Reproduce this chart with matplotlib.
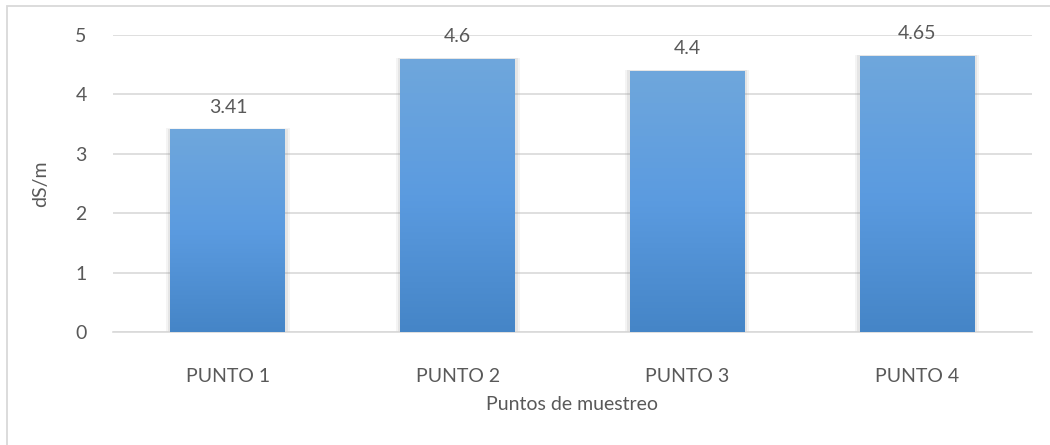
import numpy as np
import matplotlib.pyplot as plt
from matplotlib.patches import Rectangle
from matplotlib.colors import LinearSegmentedColormap

# Conductividad eléctrica por punto de muestreo
puntos = ['PUNTO 1', 'PUNTO 2', 'PUNTO 3', 'PUNTO 4']
valores = [3.41, 4.6, 4.4, 4.65]
etiquetas = ['3.41', '4.6', '4.4', '4.65']

plt.rcParams['font.family'] = ['Lato', 'DejaVu Sans']
gris = '#595959'
fs = 14

fig = plt.figure(figsize=(10.5, 4.45), dpi=100)
ax = fig.add_axes([113 / 1050, 1 - 332 / 445, (1032 - 113) / 1050, (332 - 35) / 445])

# marco exterior del gráfico (se corta por la derecha y por abajo)
fig.patches.append(Rectangle((7 / 1050, -0.2), 1.5, 1.2 - 6 / 445, transform=fig.transFigure,
                             fill=False, edgecolor='#d9d9d9', linewidth=1.3, zorder=0))

x = np.arange(len(puntos))
ancho = 0.5
cmap = LinearSegmentedColormap.from_list('azul', ['#4585c7', '#5b9be0', '#6fa7dc'])
grad = np.linspace(0, 1, 256).reshape(-1, 1)

for xi, v, txt in zip(x, valores, etiquetas):
    # sombra suave alrededor de la barra
    for k, a in [(0.020, 0.09), (0.011, 0.14)]:
        ax.add_patch(Rectangle((xi - ancho / 2 - k, 0), ancho + 2 * k, v + k * 0.9,
                               facecolor='#909090', edgecolor='none', alpha=a, zorder=2))
    barra = Rectangle((xi - ancho / 2, 0), ancho, v, facecolor='none', edgecolor='none', zorder=3)
    ax.add_patch(barra)
    im = ax.imshow(grad, extent=(xi - ancho / 2, xi + ancho / 2, 0, v), origin='lower',
                   cmap=cmap, aspect='auto', zorder=3)
    im.set_clip_path(barra)
    ax.annotate(txt, (xi, v), xytext=(0, 10), textcoords='offset points',
                ha='center', va='bottom', fontsize=fs, color=gris)

ax.set_xlim(-0.5, 3.5)
ax.set_ylim(0, 5)
ax.set_yticks(range(6))
ax.set_xticks(x)
ax.set_xticklabels(puntos)
ax.grid(axis='y', color='#d9d9d9', linewidth=1.2, zorder=0)
ax.set_axisbelow(True)
for s in ['top', 'right', 'left']:
    ax.spines[s].set_visible(False)
ax.spines['bottom'].set_color('#d9d9d9')
ax.spines['bottom'].set_linewidth(1.2)
ax.tick_params(axis='both', length=0, labelsize=fs, colors=gris)
ax.tick_params(axis='y', pad=19)
ax.tick_params(axis='x', pad=26)
ax.set_ylabel('dS/m', fontsize=fs, color=gris, labelpad=19)
ax.set_xlabel('Puntos de muestreo', fontsize=fs, color=gris, labelpad=8)

fig.savefig('out.png', dpi=100)
